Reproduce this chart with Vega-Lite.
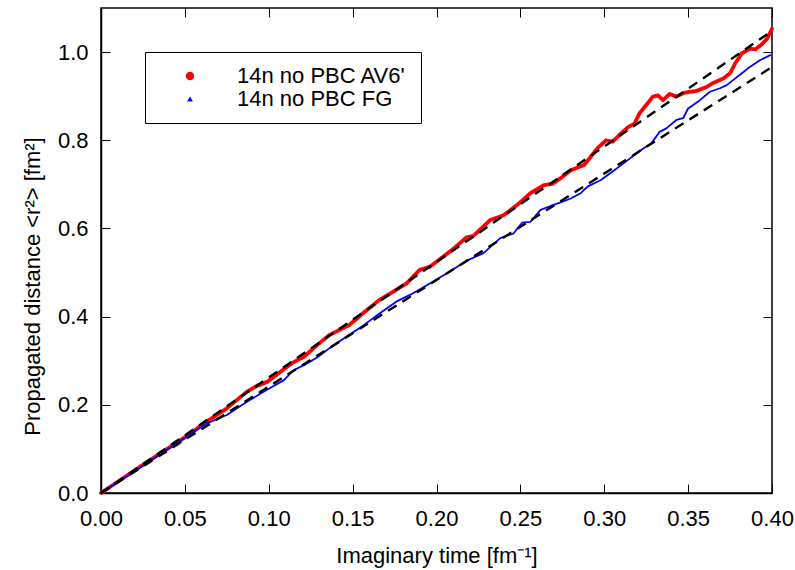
{
  "$schema": "https://vega.github.io/schema/vega-lite/v6.json",
  "width": 671,
  "height": 485,
  "autosize": {"type": "none"},
  "padding": {"left": 101, "top": 8, "right": 23, "bottom": 77},
  "background": "white",
  "config": {
    "view": {"stroke": "black", "strokeWidth": 1.5},
    "font": "Liberation Sans",
    "axis": {
      "grid": true,
      "gridColor": "black",
      "gridOpacity": 1,
      "gridWidth": 1,
      "ticks": false,
      "domainColor": "black",
      "labelColor": "black",
      "titleColor": "black",
      "labelFont": "Liberation Sans",
      "titleFont": "Liberation Sans",
      "labelFontSize": 22,
      "titleFontSize": 22,
      "titleFontWeight": "normal",
      "domainWidth": 1.5,
      "labelFlush": false,
      "labelOverlap": false,
      "labelBound": false
    },
    "legend": {
      "orient": "none",
      "legendX": 44,
      "legendY": 44,
      "padding": 13,
      "strokeColor": "black",
      "fillColor": "white",
      "labelFont": "Liberation Sans",
      "labelFontSize": 22,
      "labelColor": "black",
      "labelLimit": 400,
      "symbolOffset": 21,
      "labelOffset": 36,
      "rowPadding": 1,
      "titleFont": "Liberation Sans",
      "titleFontSize": 22,
      "titleOrient": "right",
      "titlePadding": 2
    }
  },
  "datasets": {
    "sim": [
      {"t": 0, "r2": 0, "series": "14n no PBC AV6'"},
      {"t": 0.025, "r2": 0.064, "series": "14n no PBC AV6'"},
      {"t": 0.051, "r2": 0.129, "series": "14n no PBC AV6'"},
      {"t": 0.063, "r2": 0.162, "series": "14n no PBC AV6'"},
      {"t": 0.075, "r2": 0.192, "series": "14n no PBC AV6'"},
      {"t": 0.087, "r2": 0.230, "series": "14n no PBC AV6'"},
      {"t": 0.093, "r2": 0.243, "series": "14n no PBC AV6'"},
      {"t": 0.099, "r2": 0.252, "series": "14n no PBC AV6'"},
      {"t": 0.107, "r2": 0.275, "series": "14n no PBC AV6'"},
      {"t": 0.114, "r2": 0.295, "series": "14n no PBC AV6'"},
      {"t": 0.121, "r2": 0.309, "series": "14n no PBC AV6'"},
      {"t": 0.129, "r2": 0.336, "series": "14n no PBC AV6'"},
      {"t": 0.136, "r2": 0.358, "series": "14n no PBC AV6'"},
      {"t": 0.148, "r2": 0.381, "series": "14n no PBC AV6'"},
      {"t": 0.156, "r2": 0.407, "series": "14n no PBC AV6'"},
      {"t": 0.166, "r2": 0.438, "series": "14n no PBC AV6'"},
      {"t": 0.174, "r2": 0.456, "series": "14n no PBC AV6'"},
      {"t": 0.182, "r2": 0.475, "series": "14n no PBC AV6'"},
      {"t": 0.190, "r2": 0.506, "series": "14n no PBC AV6'"},
      {"t": 0.196, "r2": 0.513, "series": "14n no PBC AV6'"},
      {"t": 0.202, "r2": 0.530, "series": "14n no PBC AV6'"},
      {"t": 0.211, "r2": 0.557, "series": "14n no PBC AV6'"},
      {"t": 0.218, "r2": 0.580, "series": "14n no PBC AV6'"},
      {"t": 0.222, "r2": 0.583, "series": "14n no PBC AV6'"},
      {"t": 0.232, "r2": 0.619, "series": "14n no PBC AV6'"},
      {"t": 0.240, "r2": 0.630, "series": "14n no PBC AV6'"},
      {"t": 0.248, "r2": 0.653, "series": "14n no PBC AV6'"},
      {"t": 0.256, "r2": 0.680, "series": "14n no PBC AV6'"},
      {"t": 0.264, "r2": 0.698, "series": "14n no PBC AV6'"},
      {"t": 0.269, "r2": 0.701, "series": "14n no PBC AV6'"},
      {"t": 0.274, "r2": 0.714, "series": "14n no PBC AV6'"},
      {"t": 0.280, "r2": 0.732, "series": "14n no PBC AV6'"},
      {"t": 0.288, "r2": 0.744, "series": "14n no PBC AV6'"},
      {"t": 0.296, "r2": 0.782, "series": "14n no PBC AV6'"},
      {"t": 0.301, "r2": 0.800, "series": "14n no PBC AV6'"},
      {"t": 0.305, "r2": 0.797, "series": "14n no PBC AV6'"},
      {"t": 0.309, "r2": 0.812, "series": "14n no PBC AV6'"},
      {"t": 0.314, "r2": 0.829, "series": "14n no PBC AV6'"},
      {"t": 0.318, "r2": 0.838, "series": "14n no PBC AV6'"},
      {"t": 0.321, "r2": 0.861, "series": "14n no PBC AV6'"},
      {"t": 0.325, "r2": 0.880, "series": "14n no PBC AV6'"},
      {"t": 0.329, "r2": 0.899, "series": "14n no PBC AV6'"},
      {"t": 0.332, "r2": 0.902, "series": "14n no PBC AV6'"},
      {"t": 0.335, "r2": 0.891, "series": "14n no PBC AV6'"},
      {"t": 0.339, "r2": 0.905, "series": "14n no PBC AV6'"},
      {"t": 0.343, "r2": 0.899, "series": "14n no PBC AV6'"},
      {"t": 0.348, "r2": 0.908, "series": "14n no PBC AV6'"},
      {"t": 0.355, "r2": 0.912, "series": "14n no PBC AV6'"},
      {"t": 0.361, "r2": 0.921, "series": "14n no PBC AV6'"},
      {"t": 0.365, "r2": 0.930, "series": "14n no PBC AV6'"},
      {"t": 0.371, "r2": 0.940, "series": "14n no PBC AV6'"},
      {"t": 0.375, "r2": 0.952, "series": "14n no PBC AV6'"},
      {"t": 0.378, "r2": 0.974, "series": "14n no PBC AV6'"},
      {"t": 0.382, "r2": 0.997, "series": "14n no PBC AV6'"},
      {"t": 0.387, "r2": 1.008, "series": "14n no PBC AV6'"},
      {"t": 0.390, "r2": 1.006, "series": "14n no PBC AV6'"},
      {"t": 0.394, "r2": 1.018, "series": "14n no PBC AV6'"},
      {"t": 0.397, "r2": 1.030, "series": "14n no PBC AV6'"},
      {"t": 0.400, "r2": 1.053, "series": "14n no PBC AV6'"},
      {"t": 0, "r2": 0, "series": "14n no PBC FG"},
      {"t": 0.025, "r2": 0.062, "series": "14n no PBC FG"},
      {"t": 0.051, "r2": 0.127, "series": "14n no PBC FG"},
      {"t": 0.063, "r2": 0.158, "series": "14n no PBC FG"},
      {"t": 0.075, "r2": 0.177, "series": "14n no PBC FG"},
      {"t": 0.087, "r2": 0.207, "series": "14n no PBC FG"},
      {"t": 0.099, "r2": 0.234, "series": "14n no PBC FG"},
      {"t": 0.109, "r2": 0.256, "series": "14n no PBC FG"},
      {"t": 0.115, "r2": 0.279, "series": "14n no PBC FG"},
      {"t": 0.121, "r2": 0.290, "series": "14n no PBC FG"},
      {"t": 0.129, "r2": 0.308, "series": "14n no PBC FG"},
      {"t": 0.136, "r2": 0.328, "series": "14n no PBC FG"},
      {"t": 0.146, "r2": 0.354, "series": "14n no PBC FG"},
      {"t": 0.156, "r2": 0.379, "series": "14n no PBC FG"},
      {"t": 0.166, "r2": 0.407, "series": "14n no PBC FG"},
      {"t": 0.176, "r2": 0.434, "series": "14n no PBC FG"},
      {"t": 0.186, "r2": 0.453, "series": "14n no PBC FG"},
      {"t": 0.196, "r2": 0.475, "series": "14n no PBC FG"},
      {"t": 0.206, "r2": 0.498, "series": "14n no PBC FG"},
      {"t": 0.218, "r2": 0.527, "series": "14n no PBC FG"},
      {"t": 0.228, "r2": 0.544, "series": "14n no PBC FG"},
      {"t": 0.238, "r2": 0.578, "series": "14n no PBC FG"},
      {"t": 0.246, "r2": 0.589, "series": "14n no PBC FG"},
      {"t": 0.251, "r2": 0.613, "series": "14n no PBC FG"},
      {"t": 0.256, "r2": 0.615, "series": "14n no PBC FG"},
      {"t": 0.262, "r2": 0.642, "series": "14n no PBC FG"},
      {"t": 0.268, "r2": 0.651, "series": "14n no PBC FG"},
      {"t": 0.274, "r2": 0.659, "series": "14n no PBC FG"},
      {"t": 0.280, "r2": 0.668, "series": "14n no PBC FG"},
      {"t": 0.286, "r2": 0.680, "series": "14n no PBC FG"},
      {"t": 0.290, "r2": 0.695, "series": "14n no PBC FG"},
      {"t": 0.298, "r2": 0.710, "series": "14n no PBC FG"},
      {"t": 0.306, "r2": 0.732, "series": "14n no PBC FG"},
      {"t": 0.314, "r2": 0.755, "series": "14n no PBC FG"},
      {"t": 0.322, "r2": 0.778, "series": "14n no PBC FG"},
      {"t": 0.328, "r2": 0.793, "series": "14n no PBC FG"},
      {"t": 0.333, "r2": 0.819, "series": "14n no PBC FG"},
      {"t": 0.337, "r2": 0.827, "series": "14n no PBC FG"},
      {"t": 0.343, "r2": 0.846, "series": "14n no PBC FG"},
      {"t": 0.347, "r2": 0.850, "series": "14n no PBC FG"},
      {"t": 0.350, "r2": 0.872, "series": "14n no PBC FG"},
      {"t": 0.353, "r2": 0.880, "series": "14n no PBC FG"},
      {"t": 0.357, "r2": 0.891, "series": "14n no PBC FG"},
      {"t": 0.363, "r2": 0.910, "series": "14n no PBC FG"},
      {"t": 0.369, "r2": 0.918, "series": "14n no PBC FG"},
      {"t": 0.373, "r2": 0.925, "series": "14n no PBC FG"},
      {"t": 0.377, "r2": 0.937, "series": "14n no PBC FG"},
      {"t": 0.382, "r2": 0.952, "series": "14n no PBC FG"},
      {"t": 0.387, "r2": 0.967, "series": "14n no PBC FG"},
      {"t": 0.393, "r2": 0.982, "series": "14n no PBC FG"},
      {"t": 0.399, "r2": 0.993, "series": "14n no PBC FG"}
    ],
    "fits": [
      {"t": 0, "r2": 0, "fit": "upper"},
      {"t": 0.4, "r2": 1.048, "fit": "upper"},
      {"t": 0, "r2": 0, "fit": "lower"},
      {"t": 0.4, "r2": 0.966, "fit": "lower"}
    ]
  },
  "encoding": {
    "x": {
      "field": "t", "type": "quantitative",
      "scale": {"domain": [0, 0.4], "nice": false, "zero": false},
      "axis": {
        "values": [0, 0.05, 0.1, 0.15, 0.2, 0.25, 0.3, 0.35, 0.4],
        "format": ".2f",
        "gridDash": [9, 467, 9, 1000],
        "labelPadding": 15,
        "labelBaseline": "top",
        "title": "Imaginary time [fm⁻¹]",
        "titleY": 69,
        "titleBaseline": "alphabetic"
      }
    },
    "y": {
      "field": "r2", "type": "quantitative",
      "scale": {"domain": [0, 1.1], "nice": false, "zero": false},
      "axis": {
        "values": [0, 0.2, 0.4, 0.6, 0.8, 1.0],
        "format": ".1f",
        "gridDash": [9, 653, 9, 1000],
        "labelPadding": 13,
        "title": "Propagated distance <r²> [fm²]",
        "titleX": -62,
        "titleY": 278,
        "titleAngle": -90,
        "titleAlign": "center",
        "titleBaseline": "alphabetic"
      }
    }
  },
  "layer": [
    {
      "data": {"name": "sim"},
      "transform": [{"filter": {"field": "series", "equal": "14n no PBC AV6'"}}],
      "mark": {"type": "line", "color": "#ff0000", "strokeWidth": 3.8, "strokeJoin": "round", "strokeCap": "round"}
    },
    {
      "data": {"name": "sim"},
      "transform": [{"filter": {"field": "series", "equal": "14n no PBC FG"}}],
      "mark": {"type": "line", "color": "#0000ff", "strokeWidth": 1.8, "strokeJoin": "round", "strokeCap": "round"}
    },
    {
      "data": {"name": "fits"},
      "mark": {"type": "line", "color": "black", "strokeWidth": 2.4, "strokeDash": [10, 7]},
      "encoding": {
        "detail": {"field": "fit", "type": "nominal"}
      }
    },
    {
      "data": {"name": "sim"},
      "transform": [{"filter": "datum.t < 0"}],
      "mark": {"type": "point", "filled": true, "opacity": 1},
      "encoding": {
        "color": {
          "field": "series", "type": "nominal",
          "scale": {"domain": ["14n no PBC AV6'", "14n no PBC FG"], "range": ["#ff0000", "#0000ff"]},
          "legend": {"title": "\u00a0\u00a0\u00a0"}
        },
        "shape": {
          "field": "series", "type": "nominal",
          "scale": {"domain": ["14n no PBC AV6'", "14n no PBC FG"], "range": ["circle", "triangle-up"]},
          "legend": {"title": "\u00a0\u00a0\u00a0"}
        },
        "size": {
          "field": "series", "type": "nominal",
          "scale": {"domain": ["14n no PBC AV6'", "14n no PBC FG"], "range": [70, 34]},
          "legend": {"title": "\u00a0\u00a0\u00a0"}
        }
      }
    }
  ]
}
